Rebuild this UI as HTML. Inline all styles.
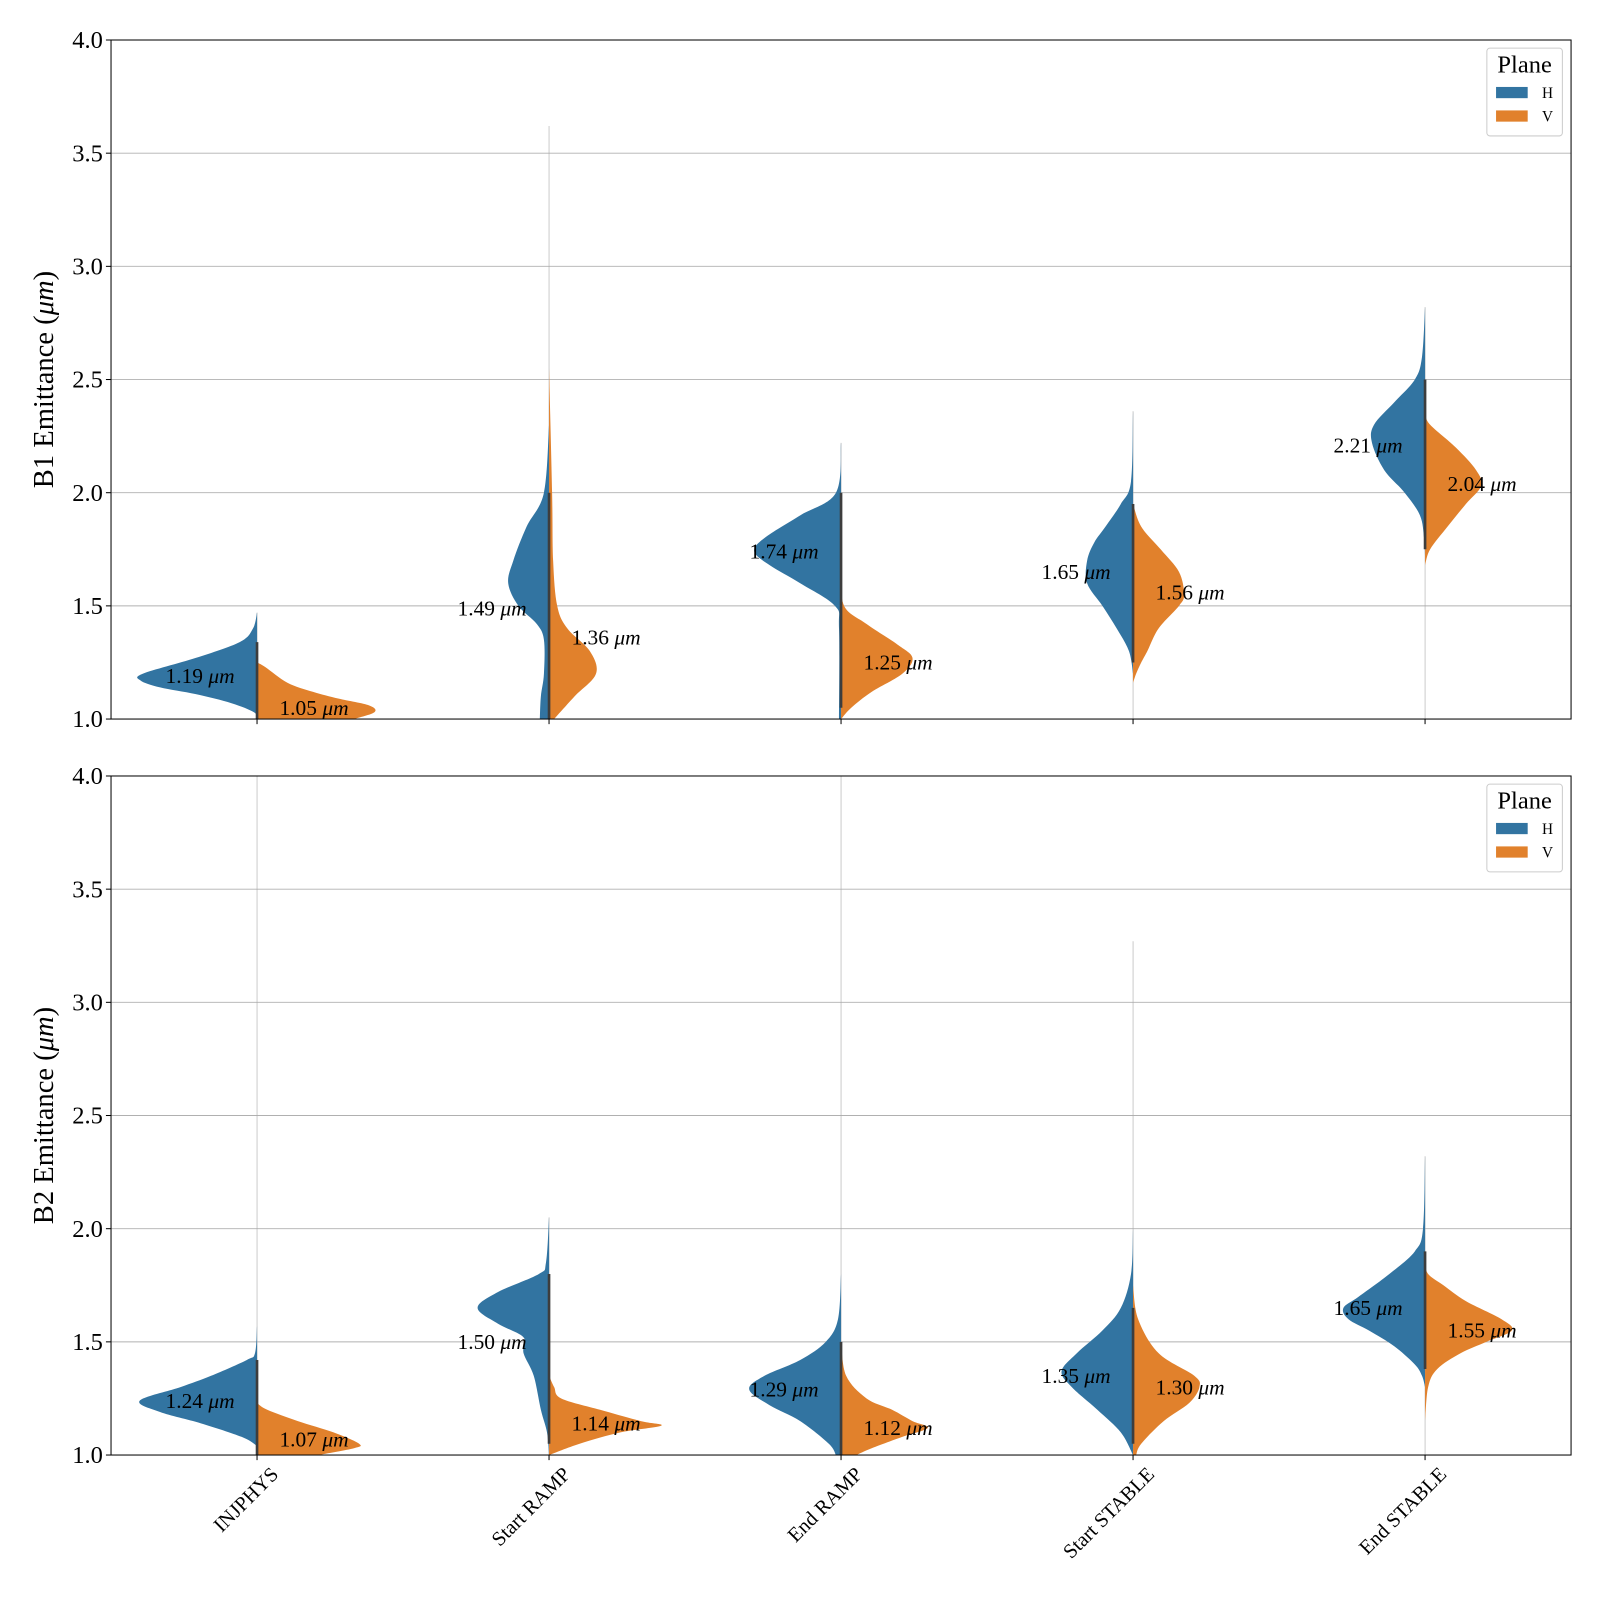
<!DOCTYPE html>
<html><head><meta charset="utf-8"><style>
html,body{margin:0;padding:0;background:#fff;}
svg{display:block;font-family:"Liberation Serif","DejaVu Serif",serif;}
</style></head><body>
<svg id="chart" width="1600" height="1600" viewBox="0 0 1600 1600" xmlns="http://www.w3.org/2000/svg">
<rect width="1600" height="1600" fill="#fff"/>
<g id="root" transform="scale(1.0205)"></g>
</svg>
<script>
// ---- data ----
const categories = ["INJPHYS","Start RAMP","End RAMP","Start STABLE","End STABLE"];
const planes = ["H","V"];
const yTicks = [1.0,1.5,2.0,2.5,3.0,3.5,4.0];
const panelTitles = ["B1 Emittance (", "B2 Emittance ("];
const b1MedianH = [1.19,1.49,1.74,1.65,2.21];
const b1MedianV = [1.05,1.36,1.25,1.56,2.04];
const b2MedianH = [1.24,1.50,1.29,1.35,1.65];
const b2MedianV = [1.07,1.14,1.12,1.30,1.55];
const b1TailH = [1.47,3.62,2.22,2.36,2.82];
const b1TailV = [1.25,2.55,1.65,1.95,2.35];
const b2TailH = [4.0,2.05,4.0,3.27,2.32];
const b2TailV = [1.23,1.35,1.5,1.75,1.85];
const b1DensH = [
 [[1.47,0],[1.40,4],[1.34,17],[1.27,60],[1.20,112],[1.17,114],[1.14,95],[1.11,60],[1.07,25],[1.03,3],[1.0,0]],
 [[2.3,0],[2.0,5],[1.85,22],[1.7,35],[1.6,40],[1.5,30],[1.42,12],[1.35,5],[1.2,5],[1.1,8],[1.0,9]],
 [[2.22,0],[2.0,5],[1.9,40],[1.8,75],[1.74,85],[1.68,70],[1.6,40],[1.5,6],[1.4,2],[1.0,2]],
 [[2.36,0],[2.05,2],[1.95,12],[1.85,27],[1.78,38],[1.7,45],[1.6,45],[1.5,30],[1.4,16],[1.3,4],[1.2,0]],
 [[2.82,0],[2.6,3],[2.5,10],[2.4,30],[2.3,50],[2.22,52],[2.1,40],[2.0,20],[1.9,5],[1.8,1],[1.72,0]]
];
const b1DensV = [
 [[1.25,0],[1.23,8],[1.16,30],[1.12,55],[1.09,80],[1.06,110],[1.03,115],[1.0,95]],
 [[2.55,0],[2.0,3],[1.7,4],[1.5,8],[1.4,18],[1.3,40],[1.2,46],[1.1,25],[1.0,5]],
 [[1.65,0],[1.5,3],[1.42,25],[1.33,55],[1.27,70],[1.2,60],[1.12,30],[1.05,10],[1.0,0]],
 [[1.95,0],[1.85,8],[1.75,27],[1.65,45],[1.55,50],[1.5,45],[1.4,25],[1.3,14],[1.25,8],[1.2,3],[1.16,0]],
 [[2.35,0],[2.3,5],[2.2,30],[2.1,50],[2.03,55],[1.95,40],[1.85,22],[1.75,5],[1.68,0]]
];
const b2DensH = [
 [[1.57,0],[1.45,2],[1.42,10],[1.35,45],[1.3,75],[1.24,115],[1.19,95],[1.14,55],[1.08,15],[1.04,0]],
 [[2.05,0],[1.85,3],[1.8,10],[1.72,50],[1.65,70],[1.58,50],[1.52,25],[1.45,25],[1.35,15],[1.2,8],[1.1,2],[1.0,0]],
 [[1.8,0],[1.6,3],[1.5,15],[1.42,40],[1.35,75],[1.29,90],[1.22,70],[1.15,40],[1.05,12],[1.0,5]],
 [[2.0,0],[1.8,2],[1.65,12],[1.55,30],[1.45,55],[1.37,70],[1.3,60],[1.2,35],[1.1,12],[1.0,0]],
 [[2.32,0],[2.0,2],[1.9,10],[1.8,35],[1.7,65],[1.65,80],[1.6,75],[1.55,55],[1.48,30],[1.4,10],[1.35,3],[1.3,0]]
];
const b2DensV = [
 [[1.23,0],[1.2,10],[1.15,40],[1.1,75],[1.05,100],[1.03,95],[1.0,60]],
 [[1.35,0],[1.3,5],[1.25,12],[1.2,50],[1.15,90],[1.13,110],[1.1,70],[1.05,30],[1.0,0]],
 [[1.5,0],[1.35,5],[1.25,25],[1.2,50],[1.15,70],[1.12,85],[1.08,60],[1.03,30],[1.0,15]],
 [[1.75,0],[1.6,5],[1.45,25],[1.35,60],[1.3,65],[1.23,55],[1.15,30],[1.05,8],[1.0,3]],
 [[1.85,0],[1.8,3],[1.75,18],[1.68,40],[1.6,75],[1.55,85],[1.5,60],[1.45,35],[1.38,12],[1.3,3],[1.15,0]]
];
const colors = {H:"#3274a1", V:"#e1812c"};

const NS = "http://www.w3.org/2000/svg";
const root = document.getElementById('root');
const axL = 108.8, axR = 1539.5;
const panels = [
 {top:39.2, bottom:704.6, medH:b1MedianH, medV:b1MedianV, tailH:b1TailH, tailV:b1TailV, dH:b1DensH, dV:b1DensV, title:panelTitles[0], key:"b1"},
 {top:760.4, bottom:1425.8, medH:b2MedianH, medV:b2MedianV, tailH:b2TailH, tailV:b2TailV, dH:b2DensH, dV:b2DensV, title:panelTitles[1], key:"b2"}
];
function mk(tag, attrs, parent){ const e=document.createElementNS(NS,tag); for(const k in attrs) e.setAttribute(k,attrs[k]); (parent||root).appendChild(e); return e; }
const xScale = i => axL + (axR-axL)/categories.length*(i+0.5);
function smoothPath(pts){
  let d = `M${pts[0][0]},${pts[0][1]}`;
  for(let i=0;i<pts.length-1;i++){
    const p0=pts[i-1]||pts[i], p1=pts[i], p2=pts[i+1], p3=pts[i+2]||p2;
    const c1=[p1[0]+(p2[0]-p0[0])/6, p1[1]+(p2[1]-p0[1])/6];
    const c2=[p2[0]-(p3[0]-p1[0])/6, p2[1]-(p3[1]-p1[1])/6];
    d += ` C${c1[0]},${c1[1]} ${c2[0]},${c2[1]} ${p2[0]},${p2[1]}`;
  }
  return d;
}
function bodyRange(dens){
  const sig = dens.filter(([v,w])=>w>=5).map(([v])=>v);
  return sig.length ? [Math.min(...sig), Math.max(...sig)] : [dens[dens.length-1][0], dens[0][0]];
}
panels.forEach((p,pi)=>{
  const yScale = v => p.bottom - (v-1.0)/(4.0-1.0)*(p.bottom-p.top);
  const g = mk('g',{});
  
  
  const clipId='clip'+pi;
  const cp = mk('clipPath',{id:clipId},g); mk('rect',{x:axL,y:p.top,width:axR-axL,height:p.bottom-p.top},cp);
  yTicks.forEach(t=>{
    const gl = mk('line',{x1:axL,x2:axR,y1:yScale(t),y2:yScale(t),stroke:"#b0b0b0","stroke-width":0.9},g);
    
    
  });
  const plot = mk('g',{'clip-path':`url(#${clipId})`},g);
  categories.forEach((c,i)=>{
    const cx = xScale(i);
    const tl = mk('line',{x1:cx,x2:cx,y1:yScale(Math.max(p.tailH[i],p.tailV[i])),y2:yScale(1.0),stroke:"#aaa","stroke-width":0.6},plot);
    
    
    [["H",p.dH[i],-1],["V",p.dV[i],1]].forEach(([pl,dens,sgn])=>{
      const pts = dens.map(([v,w])=>[cx+sgn*w, yScale(v)]);
      let d = smoothPath(pts);
      d += ` L${cx},${yScale(dens[dens.length-1][0])} L${cx},${yScale(dens[0][0])} Z`;
      const path = mk('path',{d:d,fill:colors[pl]},plot);
      
      
    });
    const rH = bodyRange(p.dH[i]), rV = bodyRange(p.dV[i]);
    const lo = Math.min(rH[0], rV[0]), hi = Math.max(rH[1], rV[1]);
    const st = mk('line',{x1:cx,x2:cx,y1:yScale(hi),y2:yScale(lo),stroke:"#3d3d3d","stroke-width":2.6},plot);
    
    
    const lh = mk('text',{x:cx-22,y:yScale(p.medH[i])+7,'text-anchor':'end','font-size':21},g);
    lh.innerHTML = p.medH[i].toFixed(2)+' <tspan font-style="italic">μm</tspan>';
    
    
    const lv = mk('text',{x:cx+22,y:yScale(p.medV[i])+7,'text-anchor':'start','font-size':21},g);
    lv.innerHTML = p.medV[i].toFixed(2)+' <tspan font-style="italic">μm</tspan>';
    
    
    mk('line',{x1:cx,x2:cx,y1:p.bottom,y2:p.bottom+5,stroke:"#000","stroke-width":1},g);
    if(pi===1){
      const xt = mk('text',{x:0,y:0,'text-anchor':'end','font-size':20,transform:`translate(${cx+22},${p.bottom+20}) rotate(-45)`},g);
      xt.textContent = c;
      
      
    }
  });
  const fr = mk('rect',{x:axL,y:p.top,width:axR-axL,height:p.bottom-p.top,fill:"none",stroke:"#000","stroke-width":1},g);
  
  
  yTicks.forEach(t=>{
    mk('line',{x1:axL-5,x2:axL,y1:yScale(t),y2:yScale(t),stroke:"#000"},g);
    const tt = mk('text',{x:axL-8,y:yScale(t)+8,'text-anchor':'end','font-size':24},g);
    tt.textContent = t.toFixed(1);
    
    
  });
  const yl = mk('text',{x:0,y:0,'text-anchor':'middle','font-size':28,transform:`translate(52,${(p.top+p.bottom)/2}) rotate(-90)`},g);
  yl.innerHTML = p.title+'<tspan font-style="italic">μm</tspan>)';
  
  
  const lg = mk('g',{},g);
  
  
  const ly = p.top;
  mk('rect',{x:1457,y:ly+8,width:74,height:86,rx:3,fill:"#fff",stroke:"#ccc","stroke-width":1},lg);
  const ltt = mk('text',{x:1494,y:ly+32,'text-anchor':'middle','font-size':24},lg);
  ltt.textContent='Plane';
  planes.forEach((pl,k)=>{
    const e = mk('g',{},lg);
    
    
    mk('rect',{x:1466,y:ly+46+k*23,width:31,height:11,fill:colors[pl]},e);
    const t = mk('text',{x:1511,y:ly+57+k*23,'font-size':15},e);
    t.textContent = pl;
  });
});
</script>
</body></html>
